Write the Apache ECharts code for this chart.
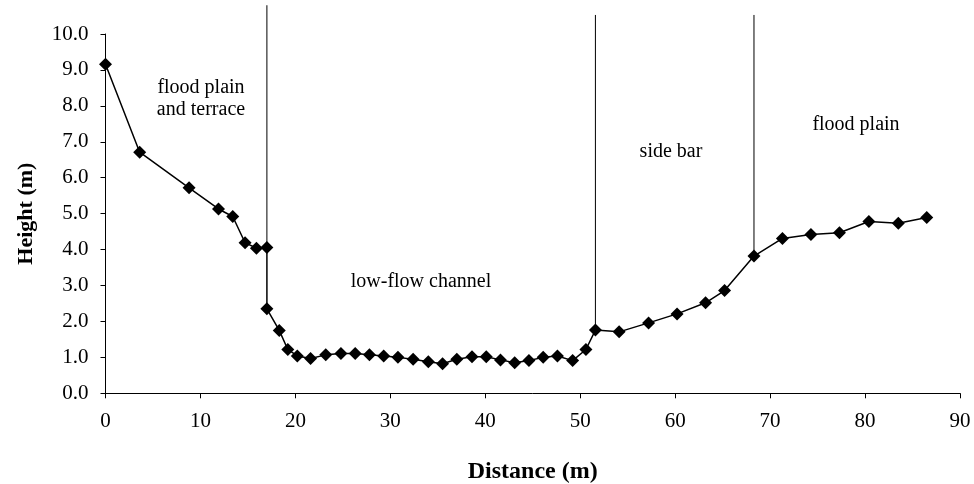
<!DOCTYPE html>
<html>
<head>
<meta charset="utf-8">
<script src="https://cdn.jsdelivr.net/npm/echarts@6/dist/echarts.min.js"></script>
<style>
html,body{margin:0;padding:0;background:#fff;}
#chart{width:974px;height:484px;}
</style>
</head>
<body>
<div id="chart"></div>
<script>
// Survey profile data
const distance = [0, 3.6, 8.8, 11.9, 13.4, 14.7, 15.9, 17.0, 17.0, 18.3, 19.2, 20.2, 21.6, 23.2, 24.8, 26.3, 27.8, 29.3, 30.8, 32.4, 34.0, 35.5, 37.0, 38.6, 40.1, 41.6, 43.1, 44.6, 46.1, 47.6, 49.2, 50.6, 51.6, 54.1, 57.2, 60.2, 63.2, 65.2, 68.3, 71.3, 74.3, 77.3, 80.4, 83.5, 86.5];
const height = [9.16, 6.71, 5.72, 5.13, 4.92, 4.19, 4.04, 4.06, 2.35, 1.75, 1.22, 1.04, 0.97, 1.07, 1.11, 1.11, 1.07, 1.04, 1.0, 0.95, 0.88, 0.82, 0.95, 1.02, 1.02, 0.93, 0.85, 0.91, 1.0, 1.04, 0.91, 1.22, 1.76, 1.71, 1.96, 2.21, 2.52, 2.86, 3.82, 4.31, 4.42, 4.47, 4.78, 4.73, 4.89];

// Zone divider lines (x position, bottom height, top height)
const dividerX = [17.0, 51.6, 68.3];
const dividerBottom = [4.06, 1.76, 3.82];
const dividerTop = [10.8, 10.53, 10.53];

const zoneLabels = ["flood plain\nand terrace", "low-flow channel", "side bar", "flood plain"];

const xTicks = [0, 10, 20, 30, 40, 50, 60, 70, 80, 90];
const yTicks = [0, 1, 2, 3, 4, 5, 6, 7, 8, 9, 10];

const FONT = '"Liberation Serif", "Times New Roman", serif';
const chart = echarts.init(document.getElementById('chart'), null, {renderer: 'canvas'});

const profile = distance.map((d, i) => [d, height[i]]);
const dividerSeries = dividerX.map((x, i) => ({
  type: 'line',
  data: [[x, dividerBottom[i]], [x, dividerTop[i]]],
  clip: false,
  symbol: 'none',
  silent: true,
  z: 1,
  lineStyle: {color: '#000', width: 1}
}));

const labelPos = [
  {left: 201, top: 99},
  {left: 421, top: 282},
  {left: 671, top: 152},
  {left: 856, top: 125}
];

chart.setOption({
  animation: false,
  backgroundColor: '#fff',
  grid: {left: 105.5, right: 14, top: 34, bottom: 90.7, containLabel: false, outerBoundsMode: 'none'},
  xAxis: {
    type: 'value',
    min: xTicks[0], max: xTicks[xTicks.length - 1], interval: 10,
    name: 'Distance (m)', nameLocation: 'middle', nameGap: 66,
    nameTextStyle: {fontFamily: FONT, fontSize: 24, fontWeight: 'bold', color: '#000'},
    axisLine: {lineStyle: {color: '#000', width: 1}},
    axisTick: {show: true, length: 5, lineStyle: {color: '#000'}},
    axisLabel: {fontFamily: FONT, fontSize: 21, color: '#000', margin: 18},
    splitLine: {show: false}
  },
  yAxis: {
    type: 'value',
    min: yTicks[0], max: yTicks[yTicks.length - 1], interval: 1,
    name: 'Height (m)', nameLocation: 'middle', nameGap: 68, nameRotate: 90,
    nameTextStyle: {fontFamily: FONT, fontSize: 22, fontWeight: 'bold', color: '#000'},
    axisLine: {show: true, lineStyle: {color: '#000', width: 1}},
    axisTick: {show: true, length: 5, lineStyle: {color: '#000'}},
    axisLabel: {fontFamily: FONT, fontSize: 21, color: '#000', margin: 17, formatter: v => v.toFixed(1)},
    splitLine: {show: false}
  },
  graphic: zoneLabels.map((t, i) => ({
    type: 'text',
    x: labelPos[i].left, y: labelPos[i].top,
    style: {text: t, font: '20px ' + FONT, fill: '#000', align: 'center', verticalAlign: 'middle', lineHeight: 22}
  })),
  series: [
    ...dividerSeries,
    {
      type: 'line',
      data: profile,
      symbol: 'diamond',
      symbolSize: 13,
      z: 3,
      lineStyle: {color: '#000', width: 1.5},
      itemStyle: {color: '#000'}
    }
  ]
});
</script>
</body>
</html>
